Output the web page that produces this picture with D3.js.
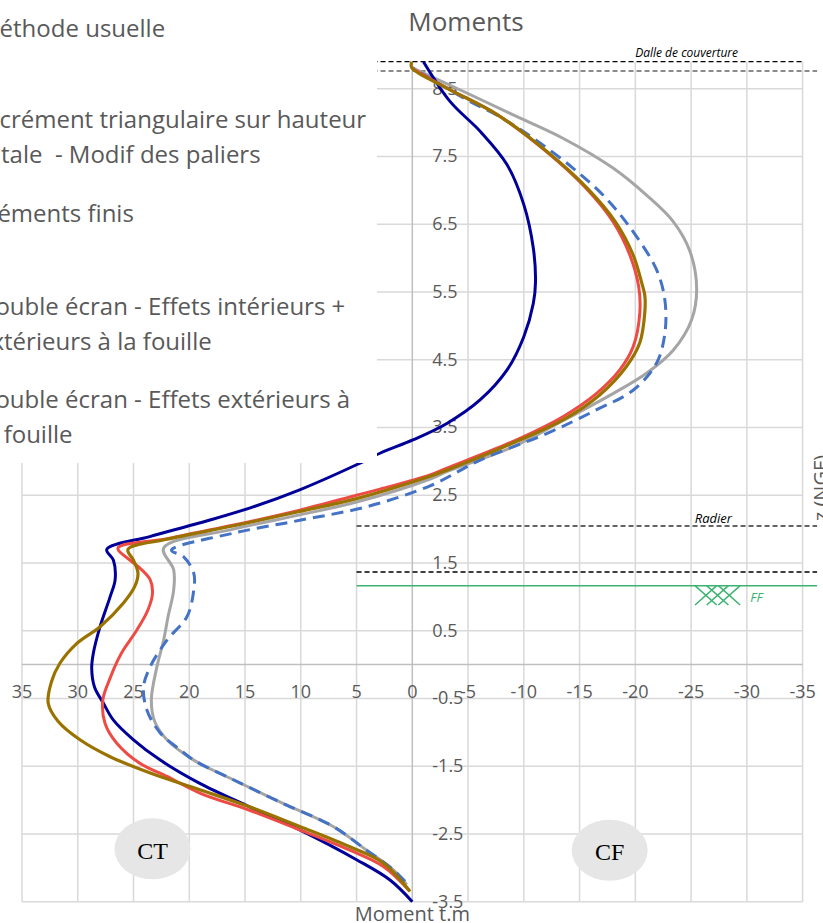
<!DOCTYPE html>
<html>
<head>
<meta charset="utf-8">
<script src="https://cdnjs.cloudflare.com/ajax/libs/d3/7.8.5/d3.min.js"></script>
<style>
  html, body { margin: 0; padding: 0; background: #fff; }
  svg { display: block; }
</style>
</head>
<body>
<div id="chart"></div>
<script>
// Moment (t.m) vs elevation z (NGF), one [moment, z] pair per point
const methodeUsuelle = [
  [0, -3.5], [2.0, -3.18], [5.0, -2.88], [10.1, -2.44], [14.6, -2.1], [19.1, -1.75],
  [22.6, -1.41], [25.0, -1.11], [26.8, -0.82], [27.7, -0.57], [28.5, -0.33], [28.75, -0.05],
  [28.6, 0.17], [28.0, 0.56], [27.1, 1.0], [26.65, 1.25], [26.8, 1.54], [27.4, 1.7],
  [23.55, 1.89], [19.1, 2.09], [14.6, 2.31], [10.1, 2.58], [5.0, 2.95], [2.9, 3.12],
  [-0.1, 3.32], [-3.1, 3.56], [-6.1, 3.91], [-8.5, 4.35], [-10.0, 4.84], [-10.85, 5.33],
  [-11.05, 5.65], [-10.85, 6.15], [-10.0, 6.79], [-8.5, 7.38], [-6.1, 7.87], [-3.4, 8.31],
  [-1.0, 8.9]
];
const incrementTriangulaire = [
  [0.3, -3.33], [2.6, -2.98], [5.6, -2.74], [10.1, -2.44], [14.6, -2.15], [19.0, -1.9],
  [22.0, -1.65], [24.4, -1.46], [26.5, -1.16], [27.55, -0.87], [27.75, -0.52], [27.1, -0.2],
  [26.4, 0.07], [25.9, 0.22], [24.7, 0.51], [23.7, 0.81], [23.3, 1.05], [23.5, 1.25],
  [24.4, 1.42], [25.3, 1.54], [26.4, 1.72], [22.0, 1.86], [16.0, 2.06], [10.1, 2.28],
  [5.0, 2.5], [2.9, 2.59], [-1.6, 2.8], [-3.1, 2.9], [-9.1, 3.3], [-13.5, 3.66],
  [-16.5, 4.0], [-18.6, 4.35], [-19.8, 4.69], [-20.4, 5.19], [-20.3, 5.58], [-19.5, 6.05],
  [-18.0, 6.54], [-15.6, 7.03], [-12.05, 7.57], [-7.6, 8.12], [-3.1, 8.51], [0, 8.8]
];
const elementsFinis = [
  [0.2, -3.35], [2.6, -2.93], [5.6, -2.69], [10.1, -2.39], [14.6, -2.1], [19.0, -1.85],
  [23.5, -1.6], [27.1, -1.36], [29.8, -1.11], [31.75, -0.84], [32.65, -0.57], [32.35, -0.25],
  [31.6, 0.02], [30.1, 0.31], [28.0, 0.56], [25.9, 0.91], [24.9, 1.15], [24.6, 1.35],
  [25.0, 1.54], [25.5, 1.7], [22.0, 1.85], [16.0, 2.05], [10.1, 2.26], [5.0, 2.45],
  [-1.6, 2.78], [-3.1, 2.87], [-9.0, 3.27], [-13.6, 3.62], [-16.8, 3.98], [-19.2, 4.4],
  [-20.4, 4.75], [-20.85, 5.2], [-20.85, 5.45], [-20.6, 5.62], [-19.8, 6.05], [-18.2, 6.54],
  [-15.7, 7.03], [-12.1, 7.57], [-7.6, 8.12], [-3.1, 8.51], [0.05, 8.81], [0.05, 8.9]
];
const doubleEcranIntExt = [
  [0.5, -3.25], [1.7, -3.03], [4.1, -2.74], [7.1, -2.39], [11.6, -2.05], [16.05, -1.7],
  [19.6, -1.41], [22.0, -1.11], [23.1, -0.84], [23.4, -0.52], [22.9, -0.03], [22.3, 0.36],
  [21.9, 0.71], [21.4, 1.1], [21.4, 1.4], [22.3, 1.72], [16.05, 2.0], [10.1, 2.21],
  [5.0, 2.4], [-1.6, 2.74], [-3.1, 2.85], [-9.1, 3.22], [-13.5, 3.6], [-18.0, 4.0],
  [-21.0, 4.3], [-23.4, 4.64], [-25.05, 5.09], [-25.5, 5.55], [-24.9, 6.1], [-23.4, 6.54],
  [-21.0, 6.93], [-18.0, 7.33], [-13.5, 7.77], [-9.1, 8.11], [-4.6, 8.46], [0, 8.81]
];
const doubleEcranExt = [
  [0.65, -3.2], [1.7, -3.03], [4.1, -2.74], [7.1, -2.39], [11.6, -2.05], [16.05, -1.7],
  [19.6, -1.41], [20.8, -1.26], [22.6, -1.01], [23.8, -0.67], [24.1, -0.33], [23.5, -0.03],
  [22.0, 0.36], [20.2, 0.71], [19.6, 1.1], [19.6, 1.35], [20.5, 1.59], [21.6, 1.69],
  [16.05, 1.94], [10.1, 2.13], [4.1, 2.33], [-1.6, 2.64], [-6.1, 3.02], [-12.05, 3.41],
  [-16.5, 3.76], [-19.8, 4.05], [-21.9, 4.45], [-22.65, 4.89], [-22.65, 5.38], [-21.9, 5.83],
  [-19.8, 6.39], [-17.4, 6.88], [-14.4, 7.33], [-10.85, 7.77], [-7.6, 8.11], [-5.2, 8.31],
  [0, 8.81]
];

const legendLabels = [
  ["Méthode usuelle"],
  ["Incrément triangulaire sur hauteur", "totale  - Modif des paliers"],
  ["Eléments finis"],
  ["Double écran - Effets intérieurs +", "extérieurs à la fouille"],
  ["Double écran - Effets extérieurs à", "la fouille"]
];

const xTicks = [35, 30, 25, 20, 15, 10, 5, 0, -5, -10, -15, -20, -25, -30, -35];
const yTicks = [-3.5, -2.5, -1.5, -0.5, 0.5, 1.5, 2.5, 3.5, 4.5, 5.5, 6.5, 7.5, 8.5];

// horizontal reference levels (z) drawn on the CF side
const dalleTop = 8.9, dalleBottom = 8.763, radierLevel = 2.046, radierBottom = 1.367, ffLevel = 1.165;

const width = 823, height = 923;
const gray = "#595959";

const svg = d3.select("#chart").append("svg")
  .attr("width", width)
  .attr("height", height)
  .style("font-family", "'Open Sans', sans-serif");

const x = d3.scaleLinear().domain([35, -35]).range([22, 802.6]);
const y = d3.scaleLinear().domain([-3.5, 8.9]).range([901.7, 61.7]);

// gridlines
svg.append("g")
  .selectAll("line")
  .data(xTicks.filter(d => d !== 0))
  .join("line")
  .attr("x1", d => x(d)).attr("x2", d => x(d))
  .attr("y1", y(8.9)).attr("y2", y(-3.5))
  .attr("stroke", "#d9d9d9").attr("stroke-width", 1.5);

svg.append("g")
  .selectAll("line")
  .data(yTicks)
  .join("line")
  .attr("x1", x(35)).attr("x2", x(-35))
  .attr("y1", d => y(d)).attr("y2", d => y(d))
  .attr("stroke", "#d9d9d9").attr("stroke-width", 1.5);

// axes crossing at 0
svg.append("line")
  .attr("x1", x(0)).attr("x2", x(0)).attr("y1", y(8.9)).attr("y2", y(-3.5))
  .attr("stroke", "#bfbfbf").attr("stroke-width", 1.5);
svg.append("line")
  .attr("x1", x(35)).attr("x2", x(-35)).attr("y1", y(0)).attr("y2", y(0))
  .attr("stroke", "#bfbfbf").attr("stroke-width", 1.5);

// tick labels
svg.append("g")
  .selectAll("text")
  .data(xTicks)
  .join("text")
  .attr("x", d => x(d))
  .attr("y", y(0) + 29)
  .attr("text-anchor", "middle")
  .attr("dominant-baseline", "middle")
  .attr("fill", gray)
  .style("font-size", "18px")
  .text(d => String(d));

svg.append("g")
  .selectAll("text")
  .data(yTicks)
  .join("text")
  .attr("x", x(0) + 20)
  .attr("y", d => y(d) + 1)
  .attr("dominant-baseline", "middle")
  .attr("fill", gray)
  .style("font-size", "18px")
  .text(d => String(d));

// reference levels
const refLines = [
  { z: dalleTop, x2: -35, color: "#000" },
  { z: dalleBottom, x2: -36.3, color: "#666" },
  { z: radierLevel, x2: -36.3, color: "#333" },
  { z: radierBottom, x2: -36.3, color: "#000" }
];
svg.append("g")
  .selectAll("line")
  .data(refLines)
  .join("line")
  .attr("x1", x(5)).attr("x2", d => x(d.x2))
  .attr("y1", d => y(d.z)).attr("y2", d => y(d.z))
  .attr("stroke", d => d.color)
  .attr("stroke-width", 1.3)
  .attr("stroke-dasharray", "5,3");

const green = "#3cb371";
svg.append("line")
  .attr("x1", x(5)).attr("x2", x(-36.3))
  .attr("y1", y(ffLevel)).attr("y2", y(ffLevel))
  .attr("stroke", green).attr("stroke-width", 1.5);

// FF hatch: three crossed marks under the level
const hatch = svg.append("g").attr("stroke", green).attr("stroke-width", 1.5);
[-25.35, -26.4, -27.45].forEach(x0 => {
  const xa = x(x0), xb = x(x0 - 1.95);
  const ya = y(ffLevel), yb = y(0.88);
  hatch.append("line").attr("x1", xa).attr("y1", ya).attr("x2", xb).attr("y2", yb);
  hatch.append("line").attr("x1", xa).attr("y1", yb).attr("x2", xb).attr("y2", ya);
});

svg.append("text")
  .attr("x", x(-24.6)).attr("y", y(dalleTop) - 5)
  .attr("text-anchor", "middle")
  .style("font-style", "italic").style("font-size", "12px")
  .attr("fill", "#000")
  .text("Dalle de couverture");

svg.append("text")
  .attr("x", x(-27)).attr("y", y(radierLevel) - 3)
  .attr("text-anchor", "middle")
  .style("font-style", "italic").style("font-size", "13px")
  .attr("fill", "#000")
  .text("Radier");

svg.append("text")
  .attr("x", x(-30.3)).attr("y", y(0.93))
  .style("font-style", "italic").style("font-size", "13px")
  .attr("fill", green)
  .text("FF");

// series
const line = d3.line()
  .x(d => x(d[0])).y(d => y(d[1]))
  .curve(d3.curveCatmullRom.alpha(0.5));
const seriesStyles = [
  { data: doubleEcranIntExt, color: "#a5a5a5", width: 3, dash: null },
  { data: doubleEcranExt, color: "#4472c4", width: 3, dash: "12,7" },
  { data: methodeUsuelle, color: "#000099", width: 3, dash: null },
  { data: incrementTriangulaire, color: "#ee4b45", width: 3, dash: null },
  { data: elementsFinis, color: "#9a7200", width: 3.2, dash: null }
];
svg.append("g")
  .selectAll("path")
  .data(seriesStyles)
  .join("path")
  .attr("d", d => line(d.data))
  .attr("fill", "none")
  .attr("stroke", d => d.color)
  .attr("stroke-width", d => d.width)
  .attr("stroke-dasharray", d => d.dash)
  .attr("stroke-linejoin", "round");

// CT / CF bubbles
const sides = [{ label: "CT", m: 23.3, z: -2.72 }, { label: "CF", m: -17.7, z: -2.74 }];
const bubble = svg.append("g").selectAll("g").data(sides).join("g")
  .attr("transform", d => `translate(${x(d.m)},${y(d.z)})`);
bubble.append("ellipse").attr("rx", 38).attr("ry", 30.5).attr("fill", "#e6e6e6");
bubble.append("text")
  .attr("text-anchor", "middle").attr("dominant-baseline", "central")
  .attr("y", 2)
  .style("font-family", "'Liberation Serif', 'DejaVu Serif', serif")
  .style("font-size", "24px")
  .attr("fill", "#000")
  .text(d => d.label);

// legend block (covers the upper left of the plot)
svg.append("rect")
  .attr("x", 0).attr("y", 0).attr("width", 377).attr("height", 463)
  .attr("fill", "#fff");

const legendRows = [36.7, 128, 222, 315, 408];
const legend = svg.append("g")
  .selectAll("text")
  .data(legendLabels)
  .join("text")
  .attr("y", (d, i) => legendRows[i])
  .attr("fill", gray)
  .style("font-size", "24px")
  .style("white-space", "pre");
legend.selectAll("tspan")
  .data(d => d)
  .join("tspan")
  .attr("x", -22)
  .attr("dy", (d, i) => i === 0 ? 0 : 34.5)
  .text(d => d);

// titles
svg.append("text")
  .attr("x", 466).attr("y", 31)
  .attr("text-anchor", "middle")
  .attr("fill", gray)
  .style("font-size", "26px")
  .text("Moments");

svg.append("text")
  .attr("x", x(0)).attr("y", 921)
  .attr("text-anchor", "middle")
  .attr("fill", gray)
  .style("font-size", "20px")
  .text("Moment t.m");

svg.append("text")
  .attr("transform", "translate(828,488) rotate(-90)")
  .attr("text-anchor", "middle")
  .attr("fill", gray)
  .style("font-size", "20px")
  .text("z (NGF)");
</script>
</body>
</html>
